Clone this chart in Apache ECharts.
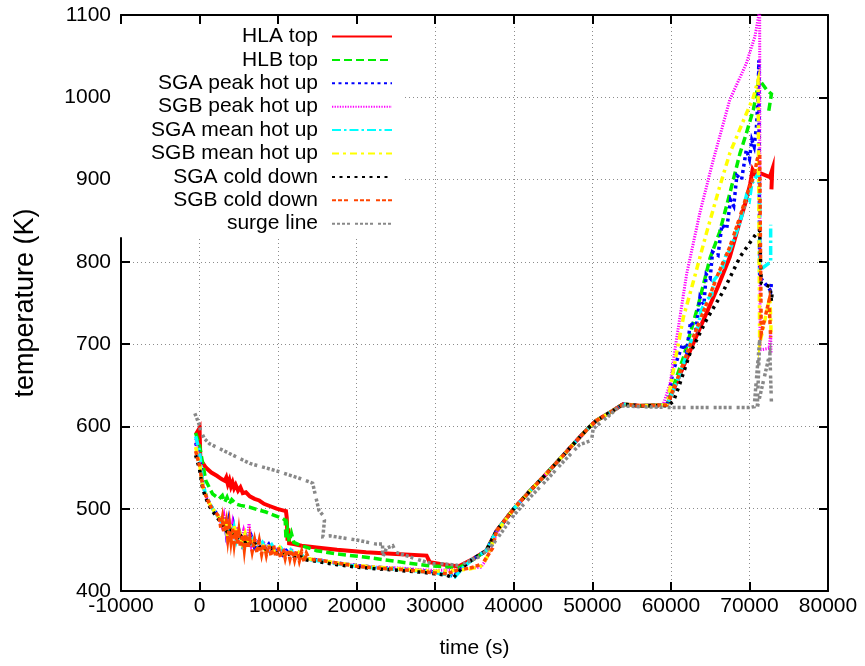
<!DOCTYPE html>
<html>
<head>
<meta charset="utf-8">
<script src="https://cdn.jsdelivr.net/npm/echarts@6/dist/echarts.min.js"></script>
<style>
  html, body { margin: 0; padding: 0; background: #fff; }
  #chart { width: 865px; height: 666px; }
</style>
</head>
<body>
<div id="chart"></div>
<script>
// Temperatures (K) versus time (s), one [time, temperature] list per probe.
const xTicks = [-10000, 0, 10000, 20000, 30000, 40000, 50000, 60000, 70000, 80000];
const yTicks = [400, 500, 600, 700, 800, 900, 1000, 1100];

const seriesNames = ['HLA top', 'HLB top', 'SGA peak hot up', 'SGB peak hot up',
  'SGA mean hot up', 'SGB mean hot up', 'SGA cold down', 'SGB cold down', 'surge line'];

// shared heat-up ramp followed by the plateau
const ramp = [[37800,473],[40000,500],[42000,521],[44200,543],[46300,565],[48400,587],[49700,600],
  [50500,607],[52600,619],[53900,627],[56000,625],[59000,626]];

const hlaTop = [[-500,590],[0,598],[100,560],[800,550],[1500,544],[2200,540],[2800,536],[3200,534],[3400,538],
  [3600,530],[3800,535],[4000,527],[4200,532],[4400,525],[4600,529],[4900,522],[5200,526],[5500,519],[5900,520],
  [6400,515],[7000,512],[7600,510],[8200,506],[9000,503],[9800,500],[10600,498],[11000,497],[11100,489],
  [11200,461],[11300,476],[11400,458],[12000,457],[13000,455],[14900,453],[17500,450],[21200,447],[25000,445],
  [28900,443],[29300,435],[31800,431],[33000,430],[34800,439],[36500,449]]
  .concat(ramp, [[59500,626],[61200,664],[62800,700],[64500,737],[66000,770],[67500,806],[68800,850],
  [69500,872],[70100,895],[70400,912],[70800,905],[71300,908],[72600,903],[72900,912],[72800,888]]);

const hlbTop = [[-500,592],[0,577],[300,560],[800,534],[1650,518],[2500,512],[2900,516],[3200,508],[3500,514],
  [3800,506],[4100,511],[4600,506],[5200,504],[6300,502],[7300,499],[8450,496],[9500,492],[10600,488],
  [10900,486],[11000,463],[11200,475],[11400,460],[11700,470],[12000,459],[13000,455],[14900,449],[17500,445],
  [21200,441],[25000,436],[28900,431],[31800,429],[33000,428],[34800,438],[36500,449]]
  .concat(ramp, [[59500,626],[61600,684],[63500,748],[65000,805],[66200,836],[67500,883],[68800,932],
  [69600,956],[70500,985],[71000,1010],[71200,1022],[72200,1009],[72800,1004],[72400,980]]);

const sgaPeak = [[-500,580],[0,565],[400,530],[800,517],[1200,508],[1650,500],[2100,495],[2500,489],[2900,484],
  [3200,490],[3400,472],[3700,486],[4000,466],[4300,480],[4600,462],[5000,474],[5400,458],[5800,470],[6200,455],
  [6600,466],[7000,453],[7600,461],[8200,450],[8800,457],[9400,446],[10000,454],[10600,444],[11200,451],
  [11800,442],[12400,448],[13100,440],[14900,438],[17500,434],[20000,431],[22500,429],[25500,427],[28000,425],
  [30000,423],[31500,421],[32300,418],[33500,429],[34800,439],[36500,449]]
  .concat(ramp, [[59500,626],[60300,668],[61500,700],[62000,690],[62500,727],[63200,718],[63700,757],
  [64200,748],[64500,785],[65000,780],[65300,812],[66000,808],[66500,845],[67100,840],[67600,875],[68000,868],
  [68400,905],[69000,900],[69600,936],[70000,925],[70300,948],[70600,940],[70900,965],[71100,1000],
  [71200,1045],[71300,782],[72700,765],[72800,775]]);

const sgbPeak = [[-500,585],[0,560],[400,528],[800,516],[1200,507],[1650,500],[2100,494],[2500,489],[2800,480],
  [3100,492],[3400,470],[3600,488],[3900,464],[4200,482],[4500,462],[4800,478],[5200,460],[5600,474],[6000,457],
  [6300,482],[6600,455],[7000,464],[7600,454],[8200,458],[8800,448],[9400,455],[10000,446],[10600,452],
  [11200,444],[11800,449],[12500,441],[13100,440],[14900,438],[17500,434],[20000,431],[22500,429],[25500,428],
  [28000,426],[30000,425],[32500,426],[34500,428],[35800,429],[36500,438],[37800,470]]
  .concat(ramp.slice(1), [[59900,652],[60700,705],[62000,785],[63700,860],[65400,924],[67500,997],
  [69600,1041],[70700,1074],[71300,1106],[71350,693],[72500,695],[72700,713],[72750,689]]);

const sgaMean = [[-500,588],[0,570],[400,530],[800,517],[1200,508],[1650,500],[2100,494],[2500,488],[2900,483],
  [3200,488],[3500,470],[3800,482],[4100,465],[4400,477],[4700,461],[5100,472],[5500,457],[5900,468],[6300,454],
  [6800,463],[7400,452],[8000,459],[8600,448],[9200,456],[9800,446],[10400,452],[11000,443],[11600,450],
  [12200,441],[12800,447],[13400,439],[14900,437],[17500,433],[20000,430],[22500,428],[25500,426],[28000,424],
  [30000,422],[31500,420],[32500,417],[33500,428],[34800,439],[36500,449]]
  .concat(ramp, [[59500,626],[61200,664],[62600,705],[63500,722],[63800,740],[64500,753],[65200,760],
  [65500,778],[66500,790],[67000,808],[67500,814],[68500,840],[69000,855],[69600,880],[70000,875],[70300,895],
  [71100,907],[71300,880],[71300,790],[72700,800],[72700,845]]);

const sgbMean = [[-500,575],[0,555],[400,527],[800,516],[1200,507],[1650,500],[2100,494],[2500,489],[2900,483],
  [3200,490],[3500,471],[3800,485],[4100,466],[4400,480],[4700,462],[5000,476],[5400,459],[5800,470],[6200,456],
  [6600,465],[7200,454],[7800,460],[8400,449],[9000,456],[9600,447],[10200,453],[10800,444],[11400,450],
  [12000,442],[12600,447],[13100,440],[14900,438],[17500,434],[20000,431],[22500,429],[25500,427],[28000,425],
  [30000,424],[32500,425],[34500,427],[35800,430],[36500,439],[37800,471]]
  .concat(ramp.slice(1), [[59500,626],[60700,688],[61600,733],[62800,774],[64500,834],[66200,891],
  [67500,932],[69600,980],[70500,1000],[71100,1021],[71300,700],[72600,757],[72700,733],[72750,712]]);

const sgaCold = [[-500,565],[0,548],[400,524],[800,513],[1200,504],[1650,497],[2100,491],[2500,486],[2900,481],
  [3300,476],[3600,470],[3900,474],[4200,466],[4500,470],[4900,462],[5300,466],[5700,458],[6100,462],[6500,455],
  [7000,458],[7500,452],[8000,455],[8600,449],[9200,452],[9800,446],[10400,449],[11000,443],[11600,446],
  [12200,440],[12800,443],[13400,438],[14900,436],[17500,432],[20000,429],[22500,427],[25500,425],[28000,423],
  [30000,421],[31500,419],[32300,416],[33500,429],[34800,439],[36500,449]]
  .concat(ramp.slice(0, -1), [[59500,625],[60300,630],[61000,648],[62400,688],[64500,729],[66700,765],
  [68800,806],[70400,828],[71000,836],[71300,838],[71500,774],[72600,770],[72800,752],[72900,765]]);

const sgbCold = [[-500,570],[0,552],[400,528],[800,516],[1200,507],[1650,499],[2100,495],[2500,490],[2700,477],
  [2900,488],[3100,470],[3400,484],[3600,464],[3800,480],[4000,461],[4200,476],[4400,458],[4600,474],[4800,456],
  [5000,472],[5200,454],[5500,470],[5700,451],[5900,468],[6200,450],[6400,465],[6700,448],[7000,462],[7300,447],
  [7600,461],[7900,445],[8200,459],[8500,444],[8800,457],[9100,443],[9400,456],[9700,442],[10000,454],
  [10300,441],[10600,453],[10900,440],[11200,452],[11500,439],[11800,451],[12100,438],[12400,450],[12700,437],
  [13000,448],[13300,436],[13600,446],[14000,438],[14900,438],[17500,434],[20000,430],[22500,428],[25500,426],
  [28000,424],[30000,422],[31500,421],[32700,425],[34500,428],[36000,433],[37300,452]]
  .concat(ramp, [[59500,626],[61000,662],[62500,700],[64500,748],[66000,785],[67500,818],[68800,855],
  [69800,885],[70600,905],[71000,925],[71300,932],[71500,713],[72500,753],[72700,708]]);

const surgeLine = [[-600,616],[0,601],[100,595],[640,585],[1270,579],[3400,569],[6400,555],[9800,546],
  [12700,537],[14400,531],[14900,510],[15200,498],[15700,492],[15900,486],[15700,466],[16600,467],[20000,462],
  [22500,457],[23300,457],[23300,441],[23800,452],[24600,455],[25000,447],[28200,437],[29700,433],[31000,433],
  [33100,431],[35700,442],[37300,456],[40000,492],[42000,513],[44200,535],[46300,557],[48400,578],[49900,583],
  [50100,597],[52000,612],[53500,625],[56000,624],[60000,623],[65000,623],[70000,623],[70600,624],[71300,705],
  [71000,623],[72600,689],[72800,628]];

const seriesData = [hlaTop, hlbTop, sgaPeak, sgbPeak, sgaMean, sgbMean, sgaCold, sgbCold, surgeLine];
const seriesColors = ['#ff0000', '#00ee00', '#0000ff', '#ff00ff', '#00ffff', '#ffff00', '#000000', '#ff4500', '#888888'];
const seriesWidths = [4, 3.5, 3.5, 3, 3.5, 3.5, 3.5, 3.5, 3.5];
const seriesDash = ['solid', [8, 4], [3, 3.5], [1.3, 1.3], [9, 3, 2.5, 3], [7, 4, 3, 4], [3, 4.5],
  [4, 2, 4, 2, 4, 6], [3, 2, 3, 2, 3, 2, 3, 5]];

const font = 'Liberation Sans, Arial, sans-serif';
const chart = echarts.init(document.getElementById('chart'), null, { renderer: 'canvas' });

const axisCommon = {
  axisLine: { show: true, onZero: false, lineStyle: { color: '#000', width: 2 } },
  axisTick: { show: true, inside: true, length: 9, lineStyle: { color: '#000', width: 2 } }
};
const gridDots = { show: true, lineStyle: { color: '#8c8c8c', width: 1, type: [1, 3] } };

chart.setOption({
  animation: false,
  backgroundColor: '#fff',
  grid: { left: 121, right: 37, top: 15, bottom: 75, containLabel: false },
  legend: {
    orient: 'vertical',
    align: 'right',
    right: 462,
    top: 24,
    padding: [2, 10, 3, 40],
    backgroundColor: '#fff',
    itemGap: 2.4,
    itemWidth: 60,
    itemHeight: 12,
    selectedMode: false,
    data: seriesNames,
    // line sample only, no marker
    itemStyle: { opacity: 0 },
    textStyle: { fontFamily: font, fontSize: 21, lineHeight: 21, color: '#000', padding: [0, 9, 0, 0] }
  },
  xAxis: [
    Object.assign({
      type: 'value', min: xTicks[0], max: xTicks[xTicks.length - 1], interval: 10000,
      name: 'time (s)', nameLocation: 'middle', nameGap: 47,
      nameTextStyle: { fontFamily: font, fontSize: 21, color: '#000' },
      axisLabel: { fontFamily: font, fontSize: 21, color: '#000', margin: 5, formatter: v => String(v) },
      splitLine: gridDots
    }, axisCommon),
    Object.assign({
      type: 'value', position: 'top', min: xTicks[0], max: xTicks[xTicks.length - 1], interval: 10000,
      axisLabel: { show: false }, splitLine: { show: false }
    }, axisCommon)
  ],
  yAxis: [
    Object.assign({
      type: 'value', min: yTicks[0], max: yTicks[yTicks.length - 1], interval: 100,
      name: 'temperature (K)', nameLocation: 'middle', nameGap: 82, nameRotate: 90,
      nameTextStyle: { fontFamily: font, fontSize: 27, color: '#000' },
      axisLabel: { fontFamily: font, fontSize: 21, color: '#000', margin: 10, formatter: v => String(v) },
      splitLine: gridDots
    }, axisCommon),
    Object.assign({
      type: 'value', position: 'right', min: yTicks[0], max: yTicks[yTicks.length - 1], interval: 100,
      axisLabel: { show: false }, splitLine: { show: false }
    }, axisCommon)
  ],
  series: seriesNames.map((name, i) => ({
    name: name,
    type: 'line',
    data: seriesData[i],
    xAxisIndex: 0,
    yAxisIndex: 0,
    showSymbol: false,
    symbol: 'none',
    clip: true,
    emphasis: { disabled: true },
    itemStyle: { color: seriesColors[i] },
    lineStyle: { color: seriesColors[i], width: seriesWidths[i], type: seriesDash[i], cap: 'butt', join: 'miter' }
  }))
});
</script>
</body>
</html>
